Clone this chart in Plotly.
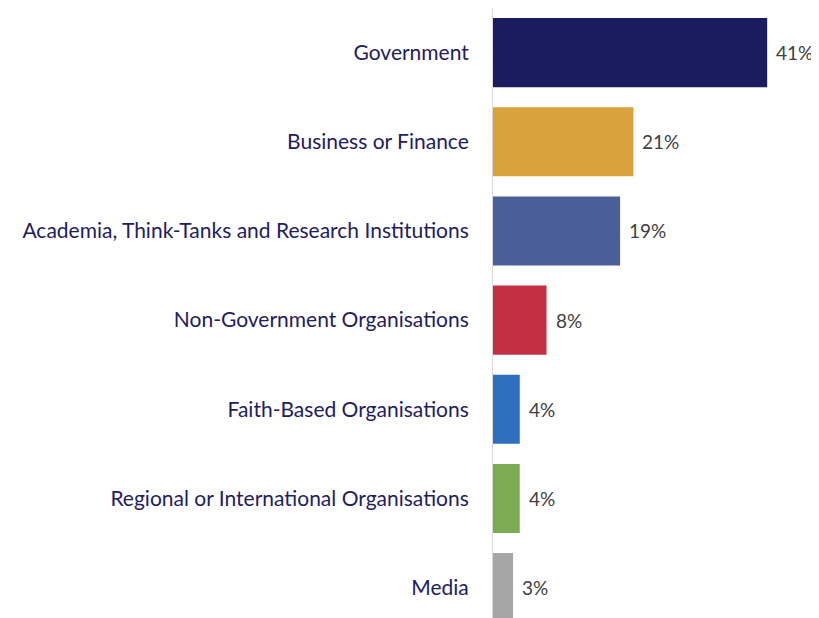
import plotly.graph_objects as go

categories = [
    "Government",
    "Business or Finance",
    "Academia, Think-Tanks and Research Institutions",
    "Non-Government Organisations",
    "Faith-Based Organisations",
    "Regional or International Organisations",
    "Media",
]
values = [41, 21, 19, 8, 4, 4, 3]
colors = ["#1B1C5F", "#DAA23C", "#4A5E99", "#C42F45", "#2F6FBF", "#7CAB55", "#A6A6A6"]

FONT = "Lato"

fig = go.Figure()
fig.add_trace(go.Bar(
    x=values,
    y=categories,
    orientation="h",
    width=0.775,
    marker=dict(color=colors, line=dict(width=0)),
    hoverinfo="skip",
))

# percentage labels just right of each bar
for cat, val in zip(categories, values):
    fig.add_annotation(
        x=val, y=cat, text=f"{val}%", showarrow=False,
        xanchor="left", yanchor="middle", xshift=7,
        font=dict(family=FONT, size=19, color="#404040"),
    )

# page body has an 8px margin, so the figure is sized to fit inside it
fig.update_layout(
    width=811,
    height=610,
    margin=dict(l=485, r=5, t=0, b=0),
    plot_bgcolor="white",
    paper_bgcolor="white",
    showlegend=False,
)
fig.update_xaxes(range=[0, 48], visible=False)
fig.update_yaxes(
    type="category",
    range=[6.34, -0.5],
    showline=True,
    linecolor="#D9D9D9",
    linewidth=1,
    showgrid=False,
    ticks="",
    ticklabelstandoff=19,
    tickfont=dict(family=FONT, size=21, color="#1F2060"),
)

fig.write_html("out.html")
